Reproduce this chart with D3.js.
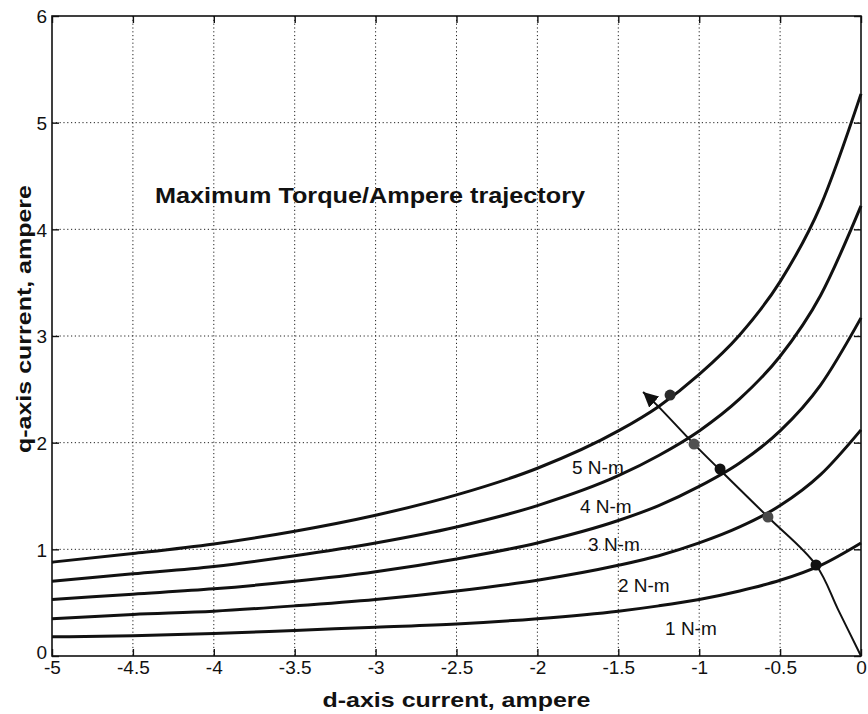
<!DOCTYPE html>
<html>
<head>
<meta charset="utf-8">
<script src="https://cdn.jsdelivr.net/npm/d3@7"></script>
<style>
  body { margin: 0; background: #fff; }
  text { font-family: Arial, "Liberation Sans", sans-serif; fill: #111; }
</style>
</head>
<body>
<svg id="chart" width="868" height="714"></svg>
<script>
// d-axis current samples shared by all constant-torque curves (A)
const idSamples = [-5, -4.5, -4, -3.5, -3, -2.5, -2, -1.5, -1.25, -1, -0.75, -0.5, -0.25, 0];
// q-axis current along each constant-torque curve (A)
const iq1Nm = [0.18, 0.19, 0.21, 0.24, 0.27, 0.30, 0.35, 0.42, 0.47, 0.53, 0.61, 0.71, 0.85, 1.06];
const iq2Nm = [0.35, 0.39, 0.42, 0.47, 0.53, 0.61, 0.71, 0.85, 0.94, 1.06, 1.21, 1.41, 1.70, 2.12];
const iq3Nm = [0.53, 0.58, 0.63, 0.70, 0.79, 0.91, 1.06, 1.27, 1.41, 1.59, 1.81, 2.11, 2.54, 3.17];
const iq4Nm = [0.70, 0.77, 0.84, 0.94, 1.06, 1.21, 1.41, 1.69, 1.88, 2.11, 2.41, 2.81, 3.38, 4.22];
const iq5Nm = [0.88, 0.96, 1.05, 1.17, 1.32, 1.51, 1.76, 2.11, 2.34, 2.64, 3.01, 3.51, 4.22, 5.27];
const torqueLabels = ["1 N-m", "2 N-m", "3 N-m", "4 N-m", "5 N-m"];

// Maximum torque per ampere trajectory (id, iq)
const mtpaId = [0, -0.14, -0.278, -0.575, -0.871, -1.038, -1.261, -1.347];
const mtpaIq = [0, 0.43, 0.853, 1.303, 1.743, 1.996, 2.352, 2.474];

// Operating points marked on the trajectory, one per torque level
const pointId = [-0.278, -0.575, -0.871, -1.032, -1.180];
const pointIq = [0.853, 1.303, 1.753, 1.987, 2.446];

// Axis ticks
const xTickValues = [-5, -4.5, -4, -3.5, -3, -2.5, -2, -1.5, -1, -0.5, 0];
const xTickLabels = ["-5", "-4.5", "-4", "-3.5", "-3", "-2.5", "-2", "-1.5", "-1", "-0.5", "0"];
const yTickValues = [0, 1, 2, 3, 4, 5, 6];
const yTickLabels = ["0", "1", "2", "3", "4", "5", "6"];

// ---- layout ----
const plot = { left: 52, right: 861, top: 16, bottom: 656 };
const svg = d3.select("#chart");

const x = d3.scaleLinear().domain([-5, 0]).range([plot.left, plot.right]);
const y = d3.scaleLinear().domain([0, 6]).range([plot.bottom, plot.top]);

// Curve label anchors (left edge, baseline) in data coordinates
const labelAnchors = [
  [-1.211, 0.197], [-1.502, 0.600], [-1.687, 0.984], [-1.737, 1.340], [-1.786, 1.706]
];

// ---- grid ----
const grid = svg.append("g").attr("stroke", "#222").attr("stroke-width", 1)
  .attr("stroke-dasharray", "1.2,2.6").attr("fill", "none");
xTickValues.slice(1, -1).forEach(v => {
  grid.append("line").attr("x1", x(v)).attr("x2", x(v))
    .attr("y1", plot.top).attr("y2", plot.bottom);
});
yTickValues.slice(1, -1).forEach(v => {
  grid.append("line").attr("x1", plot.left).attr("x2", plot.right)
    .attr("y1", y(v)).attr("y2", y(v));
});

// ---- axes (ticks pointing inward on all four sides) ----
const tickLen = 7;
const axisBottom = d3.axisBottom(x).tickValues(xTickValues)
  .tickFormat((d, i) => xTickLabels[i]).tickSizeInner(-tickLen).tickSizeOuter(0).tickPadding(5);
const axisTop = d3.axisTop(x).tickValues(xTickValues).tickFormat("").tickSizeInner(-tickLen).tickSizeOuter(0);
const axisLeft = d3.axisLeft(y).tickValues(yTickValues)
  .tickFormat((d, i) => yTickLabels[i]).tickSizeInner(-tickLen).tickSizeOuter(0).tickPadding(5);
const axisRight = d3.axisRight(y).tickValues(yTickValues).tickFormat("").tickSizeInner(-tickLen).tickSizeOuter(0);

function styleAxis(g) {
  g.select(".domain").remove();
  g.selectAll(".tick line").attr("stroke", "#111").attr("stroke-width", 1.4);
  g.selectAll(".tick text").attr("font-size", 19).attr("fill", "#111")
    .style("font-family", "Arial, 'Liberation Sans', sans-serif");
}
svg.append("g").attr("transform", `translate(0,${plot.bottom})`).call(axisBottom).call(styleAxis);
svg.append("g").attr("transform", `translate(0,${plot.top})`).call(axisTop).call(styleAxis);
svg.append("g").attr("transform", `translate(${plot.left},0)`).call(axisLeft).call(styleAxis)
  .selectAll(".tick text").attr("dy", d => d === 0 ? "0.12em" : "0.36em");
svg.append("g").attr("transform", `translate(${plot.right},0)`).call(axisRight).call(styleAxis);

// ---- constant torque curves ----
const torqueSeries = [iq1Nm, iq2Nm, iq3Nm, iq4Nm, iq5Nm];
const curveLine = d3.line().x(d => x(d[0])).y(d => y(d[1])).curve(d3.curveMonotoneX);
const curves = svg.append("g");
torqueSeries.forEach(series => {
  curves.append("path")
    .datum(idSamples.map((v, i) => [v, series[i]]))
    .attr("d", curveLine)
    .attr("fill", "none").attr("stroke", "#111").attr("stroke-width", 3)
    .attr("stroke-linejoin", "round");
});

// Curve labels
torqueLabels.forEach((t, i) => {
  svg.append("text").attr("x", x(labelAnchors[i][0])).attr("y", y(labelAnchors[i][1]))
    .attr("font-size", 19).text(t);
});

// ---- MTPA trajectory with arrow ----
svg.append("defs").append("marker")
  .attr("id", "arrowHead").attr("viewBox", "0 0 16 16")
  .attr("refX", 15).attr("refY", 8)
  .attr("markerWidth", 16).attr("markerHeight", 16)
  .attr("markerUnits", "userSpaceOnUse").attr("orient", "auto")
  .append("path").attr("d", "M0,0.5 L15,8 L0,15.5 Z").attr("fill", "#111");

const mtpaLine = d3.line().x(d => x(d[0])).y(d => y(d[1])).curve(d3.curveCatmullRom.alpha(0.5));
svg.append("path")
  .datum(mtpaId.map((v, i) => [v, mtpaIq[i]]))
  .attr("d", mtpaLine)
  .attr("fill", "none").attr("stroke", "#111").attr("stroke-width", 2)
  .attr("marker-end", "url(#arrowHead)");

// Operating points
const pointColors = ["#111", "#4a4a4a", "#111", "#505050", "#2a2a2a"];
svg.append("g").selectAll("circle")
  .data(pointId.map((v, i) => [v, pointIq[i]]))
  .join("circle")
  .attr("cx", d => x(d[0])).attr("cy", d => y(d[1])).attr("r", 5.5)
  .attr("fill", (d, i) => pointColors[i]);

// ---- frame ----
svg.append("rect")
  .attr("x", plot.left).attr("y", plot.top)
  .attr("width", plot.right - plot.left).attr("height", plot.bottom - plot.top)
  .attr("fill", "none").attr("stroke", "#111").attr("stroke-width", 1.6);

// ---- titles ----
svg.append("text").attr("x", 155).attr("y", 203)
  .attr("font-size", 22).attr("font-weight", "bold")
  .attr("textLength", 430).attr("lengthAdjust", "spacingAndGlyphs")
  .text("Maximum Torque/Ampere trajectory");

svg.append("text").attr("x", (plot.left + plot.right) / 2).attr("y", 707)
  .attr("text-anchor", "middle").attr("font-size", 21).attr("font-weight", "bold")
  .attr("textLength", 268).attr("lengthAdjust", "spacingAndGlyphs")
  .text("d-axis current, ampere");

svg.append("text").attr("transform", "translate(31,319) rotate(-90)")
  .attr("text-anchor", "middle").attr("font-size", 21).attr("font-weight", "bold")
  .attr("textLength", 268).attr("lengthAdjust", "spacingAndGlyphs")
  .text("q-axis current, ampere");
</script>
</body>
</html>
